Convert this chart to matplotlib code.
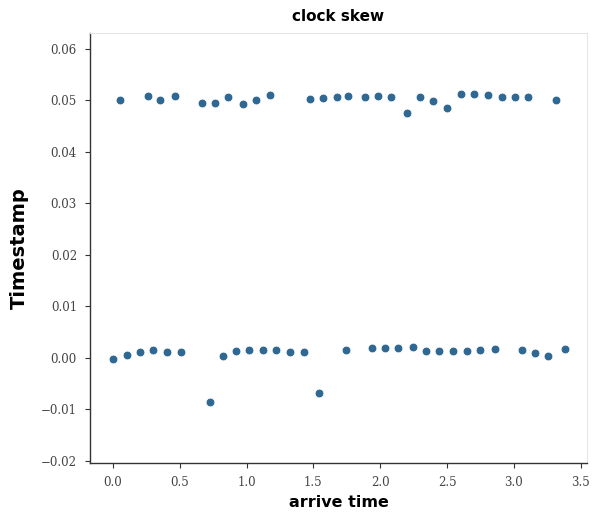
import matplotlib
matplotlib.use("Agg")
import matplotlib.pyplot as plt

# upper cluster (~0.05)
upper_x = [0.055, 0.259, 0.354, 0.466, 0.665, 0.765, 0.859, 0.971, 1.071, 1.176,
           1.475, 1.574, 1.674, 1.761, 1.886, 1.985, 2.078, 2.197, 2.297, 2.396,
           2.496, 2.601, 2.700, 2.807, 2.907, 3.007, 3.107, 3.314]
upper_y = [0.0500, 0.0509, 0.0500, 0.0509, 0.0496, 0.0496, 0.0506, 0.0494, 0.0500, 0.0510,
           0.0503, 0.0504, 0.0507, 0.0509, 0.0506, 0.0509, 0.0507, 0.0476, 0.0506, 0.0498,
           0.0485, 0.0512, 0.0512, 0.0511, 0.0506, 0.0506, 0.0506, 0.0501]

# lower cluster (~0.00)
lower_x = [0.000, 0.105, 0.204, 0.303, 0.408, 0.508, 0.727, 0.822, 0.921, 1.021,
           1.121, 1.220, 1.325, 1.430, 1.544, 1.740, 1.936, 2.035, 2.135, 2.247,
           2.342, 2.441, 2.546, 2.646, 2.745, 2.857, 3.057, 3.156, 3.256, 3.381]
lower_y = [-0.0002, 0.0006, 0.0011, 0.0015, 0.0011, 0.0011, -0.0086, 0.0003, 0.0013, 0.0015,
           0.0015, 0.0015, 0.0011, 0.0011, -0.0069, 0.0015, 0.0019, 0.0019, 0.0019, 0.0021,
           0.0013, 0.0013, 0.0013, 0.0013, 0.0015, 0.0017, 0.0015, 0.0010, 0.0004, 0.0017]

x_ticks = [0.0, 0.5, 1.0, 1.5, 2.0, 2.5, 3.0, 3.5]
y_ticks = [-0.02, -0.01, 0.00, 0.01, 0.02, 0.03, 0.04, 0.05, 0.06]

fig = plt.figure(figsize=(5.97, 5.16), dpi=100)
ax = fig.add_axes([0.151, 0.103, 0.832, 0.833])

color = "#2f6893"
ax.scatter(upper_x + lower_x, upper_y + lower_y, s=40, color=color,
           edgecolors="white", linewidths=0.6, zorder=3)

ax.set_xlim(-0.17, 3.545)
ax.set_ylim(-0.0204, 0.0631)
ax.set_xticks(x_ticks)
ax.set_xticklabels([f"{v:.1f}" for v in x_ticks])
ax.set_yticks(y_ticks)
ax.set_yticklabels([f"{v:.2f}".replace("-", "\u2212") for v in y_ticks])

for lab in ax.get_xticklabels() + ax.get_yticklabels():
    lab.set_fontfamily("DejaVu Serif")
    lab.set_fontsize(8.5)
    lab.set_color("#444444")

ax.tick_params(direction="out", length=3.5, width=0.8, color="#333333")
ax.tick_params(axis="x", pad=6)
ax.tick_params(axis="y", pad=6)

ax.spines["left"].set_color("#333333")
ax.spines["bottom"].set_color("#333333")
ax.spines["left"].set_linewidth(1.0)
ax.spines["bottom"].set_linewidth(1.0)
ax.spines["top"].set_color("#e6e6e6")
ax.spines["right"].set_color("#e6e6e6")

ax.set_title("clock skew", fontsize=11, fontweight="bold", pad=9)
ax.set_xlabel("arrive time", fontsize=11.5, fontweight="bold", labelpad=4)
ax.set_ylabel("Timestamp", fontsize=14, fontweight="bold", labelpad=9)

fig.savefig("out.png", dpi=100)
